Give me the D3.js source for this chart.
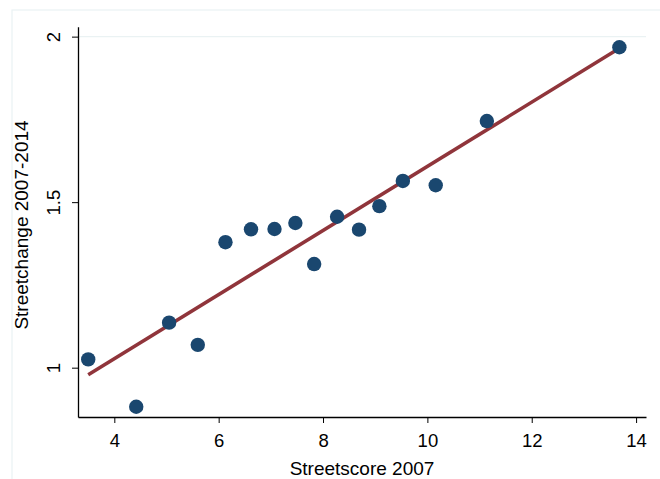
<!DOCTYPE html>
<html lang="en">
<head>
<meta charset="UTF-8" />
<title>Streetscore scatter</title>
<script src="https://d3js.org/d3.v7.min.js"></script>
<style>
  body { margin: 0; background: #fff; }
  text { font-family: "Liberation Sans", Arial, sans-serif; fill: #000; }
</style>
</head>
<body>
<svg width="660" height="479"></svg>
<script>
const width = 660;
const height = 479;

// Streetscore 2007 (x) and Streetchange 2007-2014 (y)
const streetscore = [3.50, 4.42, 5.05, 5.60, 6.13, 6.62, 7.07, 7.47, 7.83, 8.27, 8.69, 9.08, 9.53, 10.16, 11.14, 13.68];
const streetchange = [1.025, 0.882, 1.136, 1.069, 1.379, 1.418, 1.419, 1.437, 1.313, 1.456, 1.417, 1.488, 1.564, 1.551, 1.745, 1.968];
const xTicks = [4, 6, 8, 10, 12, 14];
const yTicks = [1, 1.5, 2];

const points = streetscore.map((x, i) => ({ x: x, y: streetchange[i] }));

const svg = d3.select("svg");

// outer graph region border
svg.append("rect")
  .attr("x", 12).attr("y", 10)
  .attr("width", 700).attr("height", 500)
  .attr("fill", "none")
  .attr("stroke", "#eaf2f3")
  .attr("stroke-width", 1.2);

const x = d3.scaleLinear().domain([3.304, 14.19]).range([78, 646]);
const y = d3.scaleLinear().domain([0.851, 2.030]).range([417, 26.7]);

// gridline at top tick
svg.append("line")
  .attr("x1", x.range()[0]).attr("x2", x.range()[1])
  .attr("y1", y(2)).attr("y2", y(2))
  .attr("stroke", "#eaf2f3").attr("stroke-width", 1.2);

// linear fit
const mx = d3.mean(streetscore), my = d3.mean(streetchange);
const sxy = d3.sum(points, (d) => (d.x - mx) * (d.y - my));
const sxx = d3.sum(points, (d) => (d.x - mx) * (d.x - mx));
const slope = sxy / sxx;
const intercept = my - slope * mx;
const [xmin, xmax] = d3.extent(streetscore);

svg.append("line")
  .attr("x1", x(xmin)).attr("y1", y(intercept + slope * xmin))
  .attr("x2", x(xmax)).attr("y2", y(intercept + slope * xmax))
  .attr("stroke", "#90353b")
  .attr("stroke-width", 3.6);

svg.append("g")
  .selectAll("circle")
  .data(points)
  .join("circle")
  .attr("cx", (d) => x(d.x))
  .attr("cy", (d) => y(d.y))
  .attr("r", 7.2)
  .attr("fill", "#1a476f");

// x axis
const xAxis = svg.append("g")
  .attr("transform", `translate(0,${y.range()[0]})`)
  .call(d3.axisBottom(x).tickValues(xTicks).tickSize(6).tickPadding(10.5).tickSizeOuter(0));

// y axis
const yAxis = svg.append("g")
  .attr("transform", `translate(${x.range()[0]},0)`)
  .call(d3.axisLeft(y).tickValues(yTicks).tickSize(6).tickSizeOuter(0).tickFormat(d3.format("")));

[xAxis, yAxis].forEach((g) => {
  g.select(".domain").attr("stroke", "#000").attr("stroke-width", 1.3);
  g.selectAll(".tick line").attr("stroke", "#000").attr("stroke-width", 1);
  g.selectAll(".tick text")
    .style("font-family", "'Liberation Sans', Arial, sans-serif")
    .style("font-size", "18.5px")
    .attr("fill", "#000");
});

xAxis.selectAll(".tick text").attr("dy", "0.71em");

yAxis.selectAll(".tick text")
  .attr("x", null).attr("dy", null)
  .attr("text-anchor", "middle")
  .attr("transform", "translate(-18,0) rotate(-90)");

svg.append("text")
  .attr("x", 362).attr("y", 475)
  .attr("text-anchor", "middle")
  .style("font-size", "19px")
  .text("Streetscore 2007");

svg.append("text")
  .attr("transform", "translate(28,225) rotate(-90)")
  .attr("text-anchor", "middle")
  .style("font-size", "19px")
  .text("Streetchange 2007-2014");
</script>
</body>
</html>
